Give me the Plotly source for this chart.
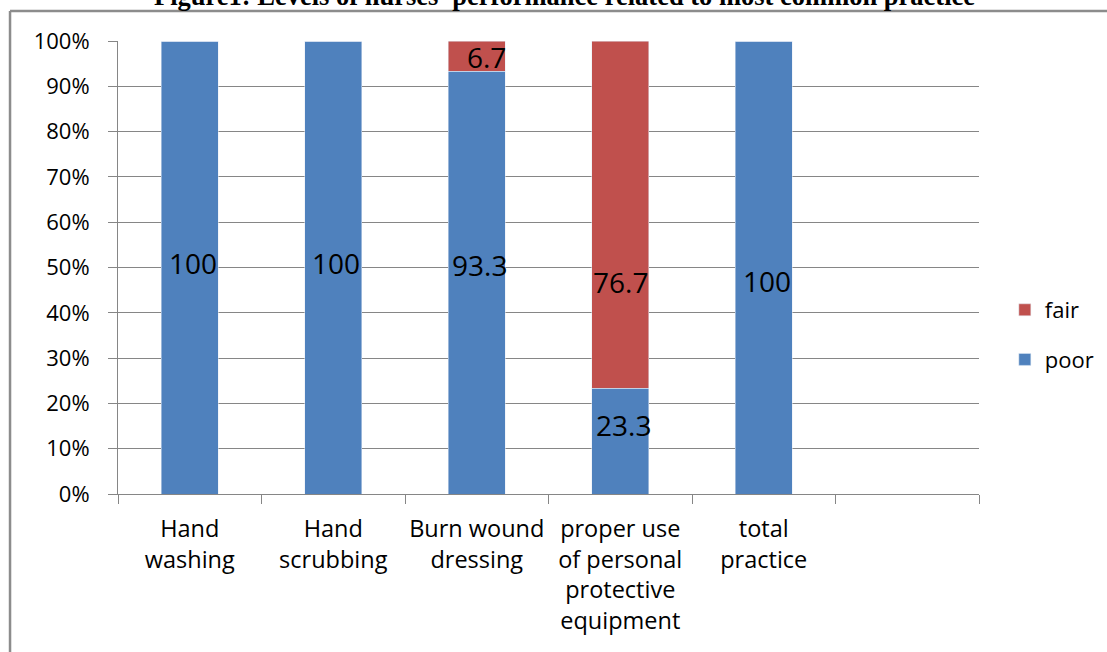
import plotly.graph_objects as go

# Practice areas (the sixth slot is left empty on the axis)
categories = ["Hand<br>washing", "Hand<br>scrubbing", "Burn wound<br>dressing",
              "proper use<br>of personal<br>protective<br>equipment", "total<br>practice", " "]

# Percent of nurses at each performance level
poor = [100, 100, 93.3, 23.3, 100, None]
fair = [0, 0, 6.7, 76.7, 0, None]

y_ticks = list(range(0, 101, 10))
y_tick_text = [f"{v}%" for v in y_ticks]

BLUE = "#4F81BD"
RED = "#C0504D"
GRID = "#868686"
FONT = "Open Sans"

fig = go.Figure()
fig.add_trace(go.Bar(x=categories, y=poor, name="poor", marker_color=BLUE,
                     legendgroup="poor", legendrank=2, hoverinfo="skip"))
fig.add_trace(go.Bar(x=categories, y=fair, name="fair", marker_color=RED,
                     legendgroup="fair", legendrank=1, hoverinfo="skip"))

# Value labels placed the way the original chart set them
poor_label_level = [51, 51, 50.5, 15.2, 47, None]
fair_label_level = [None, None, 96.5, 46.8, None, None]
annotations = []
for cat, val, lvl in zip(categories, poor, poor_label_level):
    if val:
        annotations.append(dict(x=cat, y=lvl, xref="x", yref="y", text=f"{val:g}",
                                showarrow=False, xshift=3,
                                font=dict(family=FONT, size=28, color="black")))
for cat, val, lvl in zip(categories, fair, fair_label_level):
    if val:
        annotations.append(dict(x=cat, y=lvl, xref="x", yref="y", text=f"{val:g}",
                                showarrow=False, xshift=10 if val < 10 else 0,
                                font=dict(family=FONT, size=28, color="black")))

annotations.append(dict(
    x=0.519, y=1.100, xref="paper", yref="paper", xanchor="center", yanchor="middle",
    text="<b>Figure1: Levels of nurses' performance related to most common practice</b>",
    showarrow=False, font=dict(family="Liberation Serif", size=26.5, color="black")))

# Outer frame lines (top and left)
shapes = [
    dict(type="line", xref="paper", yref="paper", x0=-0.1254, x1=1.2, y0=1.0662, y1=1.0662,
         line=dict(color="#8c8c8c", width=2.5)),
    dict(type="line", xref="paper", yref="paper", x0=-0.1254, x1=-0.1254, y0=1.0662, y1=-0.36,
         line=dict(color="#8c8c8c", width=2.5)),
]

fig.update_layout(
    barmode="stack",
    bargap=0.6,
    width=1107, height=652,
    margin=dict(l=118, r=128, t=41, b=158, autoexpand=False),
    paper_bgcolor="white", plot_bgcolor="white",
    font=dict(family=FONT, size=22, color="black"),
    showlegend=True,
    legend=dict(x=1.03, y=0.351, xanchor="left", yanchor="middle",
                traceorder="grouped", tracegroupgap=18,
                font=dict(family=FONT, size=22, color="black"),
                bgcolor="rgba(0,0,0,0)"),
    annotations=annotations,
    shapes=shapes,
)

fig.update_xaxes(
    type="category", categoryorder="array", categoryarray=categories,
    showline=True, linecolor=GRID, linewidth=1,
    ticks="outside", tickson="boundaries", ticklen=9, tickcolor=GRID, tickwidth=1,
    showgrid=False, tickfont=dict(family=FONT, size=23.5, color="black"),
    tickangle=0, automargin=False,
    ticklabelstandoff=14,
    fixedrange=True,
)
fig.update_yaxes(
    range=[0, 100], tickvals=y_ticks, ticktext=y_tick_text,
    showline=True, linecolor=GRID, linewidth=1,
    ticks="outside", ticklen=9, tickcolor=GRID, tickwidth=1,
    showgrid=True, gridcolor=GRID, gridwidth=1, zeroline=False,
    tickfont=dict(family=FONT, size=22, color="black"),
    ticklabelstandoff=14, automargin=False,
    fixedrange=True,
)

fig.write_html("out.html", config={"displayModeBar": False})
